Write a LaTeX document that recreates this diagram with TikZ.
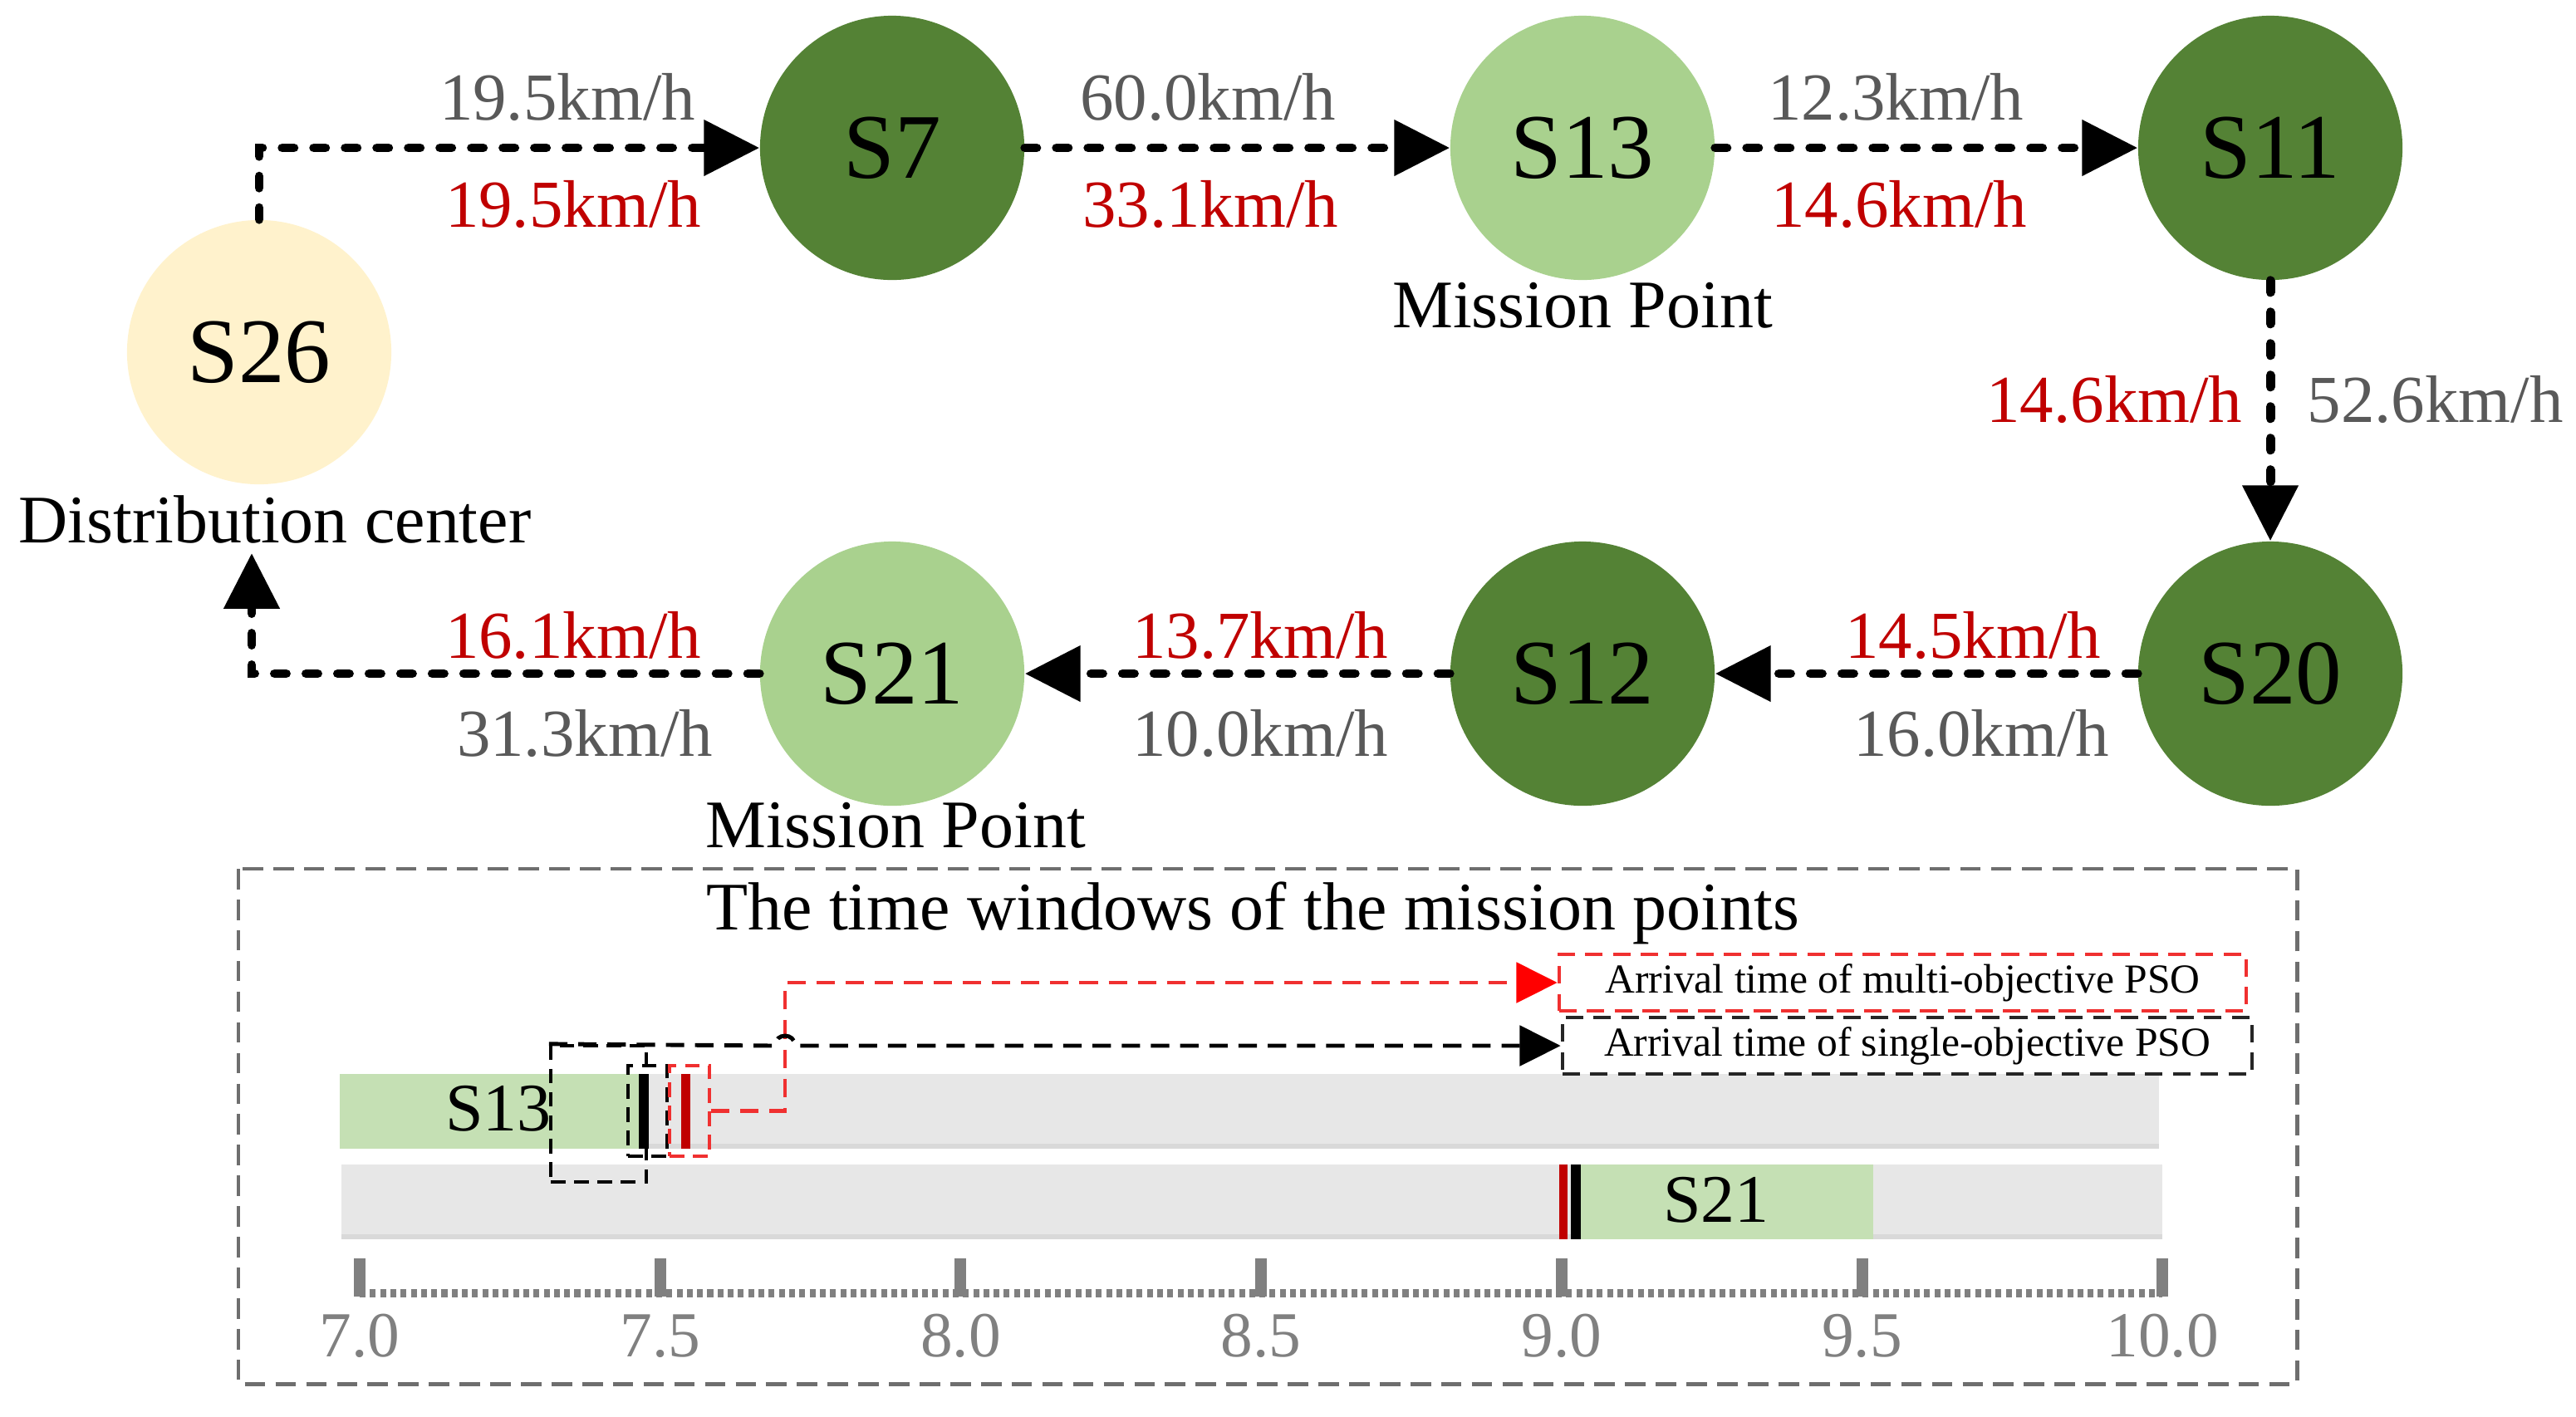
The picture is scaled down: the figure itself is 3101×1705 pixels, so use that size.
\documentclass[tikz,border=0pt]{standalone}
\usepackage{fontspec}
\setmainfont{Liberation Serif}
\usetikzlibrary{arrows.meta}
\definecolor{dkgreen}{HTML}{548235}
\definecolor{ltgreen}{HTML}{A9D18E}
\definecolor{cream}{HTML}{FFF2CC}
\definecolor{bargreen}{HTML}{C5E0B4}
\definecolor{bargray}{HTML}{E7E7E7}
\definecolor{baredge}{HTML}{D9D9D9}
\definecolor{spgray}{HTML}{595959}
\definecolor{spred}{HTML}{C00000}
\definecolor{boxgray}{HTML}{6E6E6E}
\definecolor{legred}{HTML}{F03030}
\definecolor{axgray}{HTML}{808080}
\begin{document}
\begin{tikzpicture}[x=0.01cm,y=-0.01cm,
  station/.style={circle,minimum size=3.18cm,inner sep=0pt,font=\fontsize{31.6pt}{36pt}\selectfont},
  flow/.style={line width=3.1pt,dash pattern=on 4pt off 6.8pt,line cap=round,-{Triangle[length=19pt,width=18.5pt]}},
  spd/.style={font=\fontsize{23pt}{27pt}\selectfont,inner sep=0pt,anchor=base},
  lbl/.style={font=\fontsize{23.3pt}{27pt}\selectfont,inner sep=0pt,anchor=base},
  legtext/.style={font=\fontsize{14.1pt}{17pt}\selectfont,inner sep=0pt},
  markbox/.style={line width=1.2pt,dash pattern=on 5pt off 3pt,minimum height=1.09cm,inner sep=0pt},
  legarrow/.style={line width=1.4pt,dash pattern=on 6.3pt off 3.7pt,-{Triangle[length=14pt,width=13.7pt]}},
  tick/.style={axgray,font=\fontsize{22pt}{26pt}\selectfont,inner sep=0pt,anchor=base}
]
\useasboundingbox (0,0) rectangle (3101,1705);

% stations
\node[station,fill=cream] (s26) at (312,424) {S26};
\node[station,fill=dkgreen] (s7) at (1074,178) {S7};
\node[station,fill=ltgreen] (s13) at (1905,178) {S13};
\node[station,fill=dkgreen] (s11) at (2733,178) {S11};
\node[station,fill=dkgreen] (s20) at (2733,811) {S20};
\node[station,fill=dkgreen] (s12) at (1905,811) {S12};
\node[station,fill=ltgreen] (s21) at (1074,811) {S21};

\node[lbl] (mp1) at (1905,394) {Mission Point};
\node[lbl] (mp2) at (1078,1020) {Mission Point};
\node[lbl] (dc) at (331,653) {Distribution center};
\coordinate (back) at (303,666);

% route
\draw[flow] (s26.north) |- (s7.west);
\draw[flow] (s7.east) -- (s13.west);
\draw[flow] (s13.east) -- (s11.west);
\draw[flow] (s11.south) -- (s20.north);
\draw[flow] (s20.west) -- (s12.east);
\draw[flow] (s12.west) -- (s21.east);
\draw[flow] (s21.west) -| (back);

% speeds
\node[spd,spgray] (g1) at (683,144) {19.5km/h};
\node[spd,spred]  (r1) at (690,273) {19.5km/h};
\node[spd,spgray] (g2) at (1454,144) {60.0km/h};
\node[spd,spred]  (r2) at (1457,273) {33.1km/h};
\node[spd,spgray] (g3) at (2282,144) {12.3km/h};
\node[spd,spred]  (r3) at (2286,273) {14.6km/h};
\node[spd,spred,anchor=base east] (r4) at (2700,508) {14.6km/h};
\node[spd,spgray,anchor=base west] (g4) at (2777,508) {52.6km/h};
\node[spd,spred]  (r5) at (2375,792) {14.5km/h};
\node[spd,spgray] (g5) at (2385,910) {16.0km/h};
\node[spd,spred]  (r6) at (1517,792) {13.7km/h};
\node[spd,spgray] (g6) at (1517,910) {10.0km/h};
\node[spd,spred]  (r7) at (690,792) {16.1km/h};
\node[spd,spgray] (g7) at (704,910) {31.3km/h};

% time window panel
\draw[boxgray,line width=1.4pt,dash pattern=on 7pt off 3.5pt] (287,1046) rectangle (2765,1666);
\node[lbl] (title) at (1508,1119) {The time windows of the mission points};

% bars
\fill[bargray] (409,1293) rectangle (2599,1383);
\fill[baredge] (409,1377) rectangle (2599,1383);
\fill[bargreen] (409,1293) rectangle (769,1383);
\fill[black] (769,1293) rectangle (781,1383);
\fill[spred] (820,1293) rectangle (831,1383);
\fill[bargray] (411,1402) rectangle (2603,1492);
\fill[baredge] (411,1486) rectangle (2603,1492);
\fill[bargreen] (1903,1402) rectangle (2255,1492);
\fill[spred] (1877,1402) rectangle (1887,1492);
\fill[black] (1891,1402) rectangle (1903,1492);
\node[lbl,anchor=center] (l13) at (600,1335) {S13};
\node[lbl,anchor=center] (l21) at (2066,1445) {S21};

% marker boxes
\node[markbox,draw=black,minimum width=0.47cm] (bbox) at (779.5,1337.5) {};
\node[markbox,draw=legred,minimum width=0.48cm] (rbox) at (830,1337.5) {};
\node[markbox,draw=black,minimum width=1.15cm,minimum height=1.64cm] (bigbox) at (720.5,1341) {};

% legends
\node[legtext,draw=legred,line width=1.2pt,dash pattern=on 6pt off 3.5pt,minimum width=8.27cm,minimum height=0.68cm] (redleg) at (2290.5,1183) {Arrival time of multi-objective PSO};
\node[legtext,draw=black!85,line width=1.2pt,dash pattern=on 6pt off 3.5pt,minimum width=8.30cm,minimum height=0.68cm] (blkleg) at (2296,1259) {Arrival time of single-objective PSO};

\draw[legarrow,legred,-{Triangle[length=14pt,width=13.7pt,color=red]}] (rbox.east) -- (945,1337.5) |- (redleg.west);
\draw[legarrow,black] (bigbox.north west) -- (933,1259) .. controls (933,1243) and (957,1243) .. (957,1259) -- (blkleg.west);

% axis
\coordinate (ax0) at (433,1557);
\coordinate (ax1) at (2603,1557);
\draw[axgray,line width=2.6pt,dash pattern=on 2pt off 1.5pt] (ax0) -- (ax1);
\foreach \t [count=\i from 0] in {7.0,7.5,8.0,8.5,9.0,9.5,10.0} {
  \fill[axgray] ({433+361.7*\i-7},1515) rectangle ({433+361.7*\i+7},1561);
  \node[tick] (t\i) at ({433+361.7*\i},1633) {\t};
}
\end{tikzpicture}
\end{document}
